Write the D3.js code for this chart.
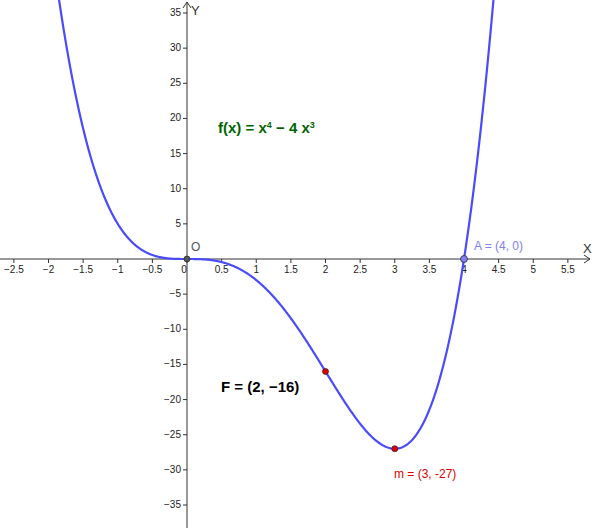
<!DOCTYPE html>
<html><head><meta charset="utf-8">
<script src="https://cdn.jsdelivr.net/npm/d3@7"></script>
<style>body{margin:0;background:#fff}svg{font-family:"Liberation Sans",Arial,sans-serif}</style>
</head><body><svg id="c" width="598" height="528"></svg>
<script>
// f(x) = x^4 - 4x^3, coefficients from highest power
var coeffs = [1, -4, 0, 0, 0];
var xTicks = [-2.5,-2,-1.5,-1,-0.5,0,0.5,1,1.5,2,2.5,3,3.5,4,4.5,5,5.5];
var yTicks = [-35,-30,-25,-20,-15,-10,-5,5,10,15,20,25,30,35];
var points = [
  {name: "O", x: 0, y: 0},
  {name: "F", x: 2, y: -16},
  {name: "m", x: 3, y: -27},
  {name: "A", x: 4, y: 0}
];

var svg = d3.select("#c");
var x = d3.scaleLinear().domain([0, 4]).range([187, 464]);
var y = d3.scaleLinear().domain([0, 35]).range([259, 13]);
function f(v){ return coeffs.reduce(function(a,c){ return a*v + c; }, 0); }

// axes
svg.append("line").attr("x1",0).attr("x2",590).attr("y1",y(0)).attr("y2",y(0)).attr("stroke","#333");
svg.append("path").attr("d","M584,"+(y(0)-4)+"L590,"+y(0)+"L584,"+(y(0)+4)).attr("fill","none").attr("stroke","#333");
svg.append("line").attr("x1",x(0)).attr("x2",x(0)).attr("y1",2).attr("y2",528).attr("stroke","#333");
svg.append("path").attr("d","M"+(x(0)-4)+",8L"+x(0)+",2L"+(x(0)+4)+",8").attr("fill","none").attr("stroke","#333");
svg.append("text").attr("x",583).attr("y",y(0)-6).attr("font-size",13).attr("fill","#333").text("X");
svg.append("text").attr("x",x(0)+4).attr("y",15).attr("font-size",13).attr("fill","#333").text("Y");

xTicks.forEach(function(t){
  svg.append("line").attr("x1",x(t)).attr("x2",x(t)).attr("y1",y(0)).attr("y2",y(0)+4).attr("stroke","#333");
  svg.append("text").attr("x",x(t)+(t==0?-3:0)).attr("y",y(0)+14).attr("text-anchor","middle")
    .attr("font-size",10).attr("fill","#222").text(t<0?"\u2212"+(-t):t);
});
yTicks.forEach(function(t){
  svg.append("line").attr("x1",x(0)-4).attr("x2",x(0)).attr("y1",y(t)).attr("y2",y(t)).attr("stroke","#333");
  svg.append("text").attr("x",x(0)-6).attr("y",y(t)+3).attr("text-anchor","end")
    .attr("font-size",10).attr("fill","#222").text(t<0?"\u2212"+(-t):t);
});

// curve
var xs = d3.range(-2.2, 4.5, 0.01);
svg.append("path").datum(xs)
  .attr("d", d3.line().x(function(d){return x(d);}).y(function(d){return y(f(d));}))
  .attr("fill","none").attr("stroke","#4a4aff").attr("stroke-width",2.2);

// points
var col = {O:"#555", F:"#dd0000", m:"#dd0000", A:"#8080ee"};
points.forEach(function(p){
  svg.append("circle").attr("cx",x(p.x)).attr("cy",y(p.y)).attr("r",p.name=="A"?3.5:3)
    .attr("fill",col[p.name]).attr("stroke","#222").attr("stroke-width",0.7);
});
svg.append("text").attr("x",191).attr("y",251).attr("font-size",12).attr("fill","#555").text("O");
svg.append("text").attr("x",474).attr("y",250).attr("font-size",12).attr("fill","#8080ee").text("A = (4, 0)");
svg.append("text").attr("x",394).attr("y",478).attr("font-size",12).attr("fill","#dd0000").text("m = (3, -27)");
svg.append("text").attr("x",221).attr("y",392).attr("font-size",15).attr("font-weight","bold").attr("fill","#000")
  .text("F = (2, \u221216)");
var ft = svg.append("text").attr("x",218).attr("y",133).attr("font-size",15).attr("font-weight","bold").attr("fill","#006400");
ft.append("tspan").text("f(x) = x");
ft.append("tspan").attr("dy",-5).attr("font-size",9).text("4");
ft.append("tspan").attr("dy",5).text(" \u2212 4 x");
ft.append("tspan").attr("dy",-5).attr("font-size",9).text("3");
</script></body></html>
